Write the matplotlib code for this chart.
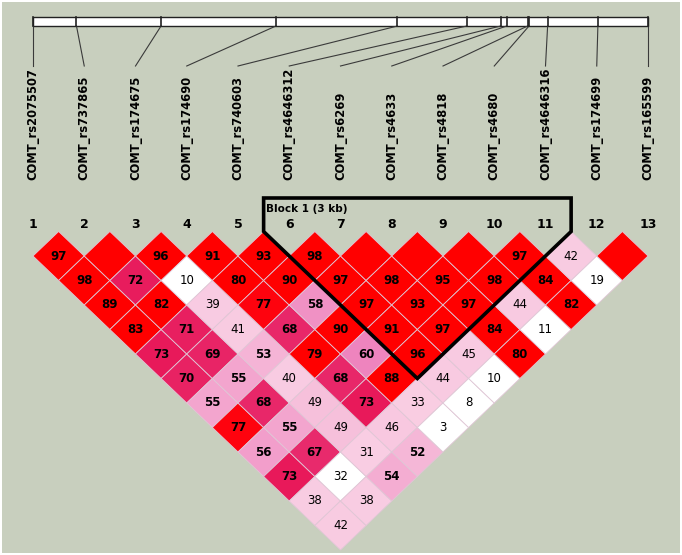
import numpy as np
import matplotlib
matplotlib.use("Agg")
import matplotlib.pyplot as plt
from matplotlib.patches import Polygon, Rectangle

# SNP markers along COMT and approximate physical positions (bp)
MARKERS = ["COMT_rs2075507", "COMT_rs737865", "COMT_rs174675", "COMT_rs174690",
           "COMT_rs740603", "COMT_rs4646312", "COMT_rs6269", "COMT_rs4633",
           "COMT_rs4818", "COMT_rs4680", "COMT_rs4646316", "COMT_rs174699",
           "COMT_rs165599"]
POSITIONS = [19928300, 19930314, 19934230, 19939550, 19945177, 19948390,
             19949952, 19950235, 19951207, 19951271, 19952132, 19954460,
             19956781]

# D' x 100 for pair (i, j), j > i; 100 is drawn without a number
DPRIME = [
    [97, 98, 89, 83, 73, 70, 55, 77, 56, 73, 38, 42],
    [100, 72, 82, 71, 69, 55, 68, 55, 67, 32, 38],
    [96, 10, 39, 41, 53, 40, 49, 49, 31, 54],
    [91, 80, 77, 68, 79, 68, 73, 46, 52],
    [93, 90, 58, 90, 60, 88, 33, 3],
    [98, 97, 97, 91, 96, 44, 8],
    [100, 98, 93, 97, 45, 10],
    [100, 95, 97, 84, 80],
    [100, 98, 44, 11],
    [97, 84, 82],
    [42, 19],
    [100],
]
# pairs with LOD < 2 (drawn white)
LOW_LOD = [(3, 5), (11, 13), (9, 13), (7, 13), (6, 13), (5, 13), (2, 12)]

BLOCK = (6, 11)
BLOCK_LABEL = "Block 1 (3 kb)"

# colour ramp for high-LOD pairs (D' -> RGB)
RAMP_D = [0.0, 0.45, 0.50, 0.53, 0.55, 0.60, 0.67, 0.73, 0.76, 0.78, 1.0]
RAMP_RGB = [(250, 212, 230), (248, 202, 225), (246, 190, 218), (245, 180, 214),
            (243, 165, 206), (238, 132, 190), (232, 42, 108), (232, 25, 90),
            (252, 6, 28), (255, 0, 0), (255, 0, 0)]

BG = "#c8cfbe"

# pixel layout of the reference image
W, H = 682, 555
X0_PX, DX_PX = 33.0, 51.25
Y0_PX, DY_PX = 256.0, 24.5


def py(p):
    """pixel row -> data y (row units)"""
    return 1 + (p - Y0_PX) / DY_PX


def cell_color(d, low_lod):
    if low_lod:
        return "white"
    rgb = [np.interp(d / 100.0, RAMP_D, [c[k] for c in RAMP_RGB]) / 255.0 for k in range(3)]
    return tuple(rgb)


fig = plt.figure(figsize=(W / 100, H / 100), dpi=100)
fig.patch.set_facecolor("white")
fig.patches.append(Rectangle((2 / W, 2 / H), (W - 4) / W, (H - 4) / H,
                             transform=fig.transFigure, facecolor=BG,
                             edgecolor="none", zorder=-10))
ax = fig.add_axes([0, 0, 1, 1])
ax.set_facecolor("none")
ax.set_xlim(1 - X0_PX / DX_PX, 1 + (W - X0_PX) / DX_PX)
ax.set_ylim(py(H), py(0))
ax.axis("off")

n = len(MARKERS)

# gene map bar with SNP ticks
span = POSITIONS[-1] - POSITIONS[0]
phys_x = [1 + (p - POSITIONS[0]) / span * (n - 1) for p in POSITIONS]
bar_top, bar_bot = py(17), py(26)
ax.add_patch(Rectangle((1, bar_top), n - 1, bar_bot - bar_top, facecolor="white",
                       edgecolor="#222222", lw=1.0, zorder=2))
for i, xp in enumerate(phys_x):
    ax.plot([xp, xp], [bar_top, bar_bot], color="#222222", lw=1.2, zorder=3)
    ax.plot([xp, i + 1], [bar_bot, py(66)], color="#3a3a3a", lw=0.8, zorder=2)
    ax.text(i + 1, py(180), MARKERS[i], rotation=90, ha="center", va="bottom",
            fontsize=8.3, fontweight="bold", color="black")
    ax.text(i + 1, py(224), str(i + 1), ha="center", va="center",
            fontsize=9, fontweight="bold", color="black")

# LD diamonds
for i in range(1, n):
    for k, d in enumerate(DPRIME[i - 1]):
        j = i + 1 + k
        xc, yc = (i + j) / 2, j - i
        low = (i, j) in LOW_LOD
        verts = [(xc - 0.5, yc), (xc, yc - 1), (xc + 0.5, yc), (xc, yc + 1)]
        ax.add_patch(Polygon(verts, closed=True, facecolor=cell_color(d, low),
                             edgecolor=(0.88, 0.78, 0.84), lw=0.6, zorder=1))
        if d < 100:
            ax.text(xc, yc, str(d), ha="center", va="center", fontsize=8.5,
                    fontweight="bold" if d >= 50 else "normal", color="black",
                    zorder=4)

# haplotype block outline
b0, b1 = BLOCK
top = py(198)
apex = ((b0 + b1) / 2, (b1 - b0) + 1)
outline = [(b0 - 0.5, top), (b1 + 0.5, top), (b1 + 0.5, 0), apex, (b0 - 0.5, 0)]
ax.add_patch(Polygon(outline, closed=True, fill=False, edgecolor="black",
                     lw=2.6, joinstyle="miter", zorder=5))
ax.text(b0 - 0.45, py(209), BLOCK_LABEL, ha="left", va="center", fontsize=7.5,
        fontweight="bold", color="black", zorder=6)

fig.savefig("out.png", dpi=100)
